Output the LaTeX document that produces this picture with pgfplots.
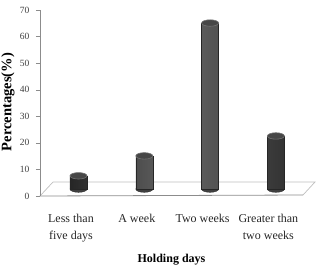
\documentclass[border=0pt]{standalone}
\usepackage{pgfplots}
\usepackage{pgfplotstable}
\pgfplotsset{compat=1.18}
\usepackage{fontspec}
\setmainfont{Liberation Serif}
\pgfplotstableread{
x base v
0 2.6 5
1 2.6 12.5
2 2.6 62.5
3 2.6 20
}\datatable
\pgfplotsset{geom/.style={
  at={(0,0)}, anchor=south west,
  scale only axis, width=263pt, height=186pt,
  xmin=-0.471, xmax=3.526, ymin=0, ymax=70, clip=false}}
\begin{document}
\begin{tikzpicture}
% 3D floor (decoration), axis box lower-left at (0,0)
\draw[black!25, line width=0.7pt] (0pt,0pt) -- (13pt,14pt) -- (275pt,14pt) -- (263pt,1pt);
\draw[black!45, line width=0.8pt] (0pt,0pt) -- (263pt,1pt);
% axis with ticks, labels and bottom ellipses
\begin{axis}[geom,
  axis y line*=left,
  axis x line*=bottom,
  x axis line style={draw=none},
  y axis line style={black!45, line width=0.6pt},
  major x tick style={draw=none},
  ytick={0,10,...,70},
  tick align=outside,
  major tick length=4pt,
  major y tick style={black!45},
  xtick={0,1,2,3},
  xticklabels={{Less than\\five days},{A week},{Two weeks},{Greater than\\two weeks}},
  xticklabel style={align=center, font=\fontsize{12}{17}\selectfont, text=black!85, yshift=-11pt},
  yticklabel style={font=\fontsize{9.5}{11}\selectfont, text=black!75, xshift=-3pt},
  /pgf/number format/assume math mode=true,
  xlabel={Holding days},
  xlabel style={font=\bfseries\fontsize{12}{14}\selectfont, at={(axis description cs:0.5,0)}, anchor=north, yshift=-55pt},
  ylabel={Percentages(\%)},
  ylabel style={font=\bfseries\fontsize{14.5}{16}\selectfont, at={(axis description cs:0,0.505)}, anchor=center, yshift=32pt},
]
\addplot[only marks, mark=*, mark size=8.5pt, xshift=7.5pt,
  mark options={yscale=0.38, fill=black!75, draw=black!82}]
  table[x=x, y=base] {\datatable};
\end{axis}
% bar bodies, stacked on the floor level
\begin{axis}[geom, axis lines=none, ybar stacked, bar width=17pt]
\addplot[ybar, bar shift=7.5pt, draw=none, fill=none] table[x=x, y=base] {\datatable};
\addplot[ybar, bar shift=7.5pt, draw=black!85, line width=0.3pt,
  left color=black!85, right color=black!80, middle color=black!60]
  table[x=x, y=v] {\datatable};
\end{axis}
% top ellipses
\begin{axis}[geom, axis lines=none]
\addplot[only marks, mark=*, mark size=8.5pt, xshift=7.5pt,
  mark options={yscale=0.38, fill=black!72, draw=black!55, line width=0.6pt}]
  table[x=x, y expr=\thisrow{base}+\thisrow{v}] {\datatable};
\end{axis}
\pgfresetboundingbox
\path (-40pt,-70pt) rectangle (276pt,196pt);
\end{tikzpicture}
\end{document}
